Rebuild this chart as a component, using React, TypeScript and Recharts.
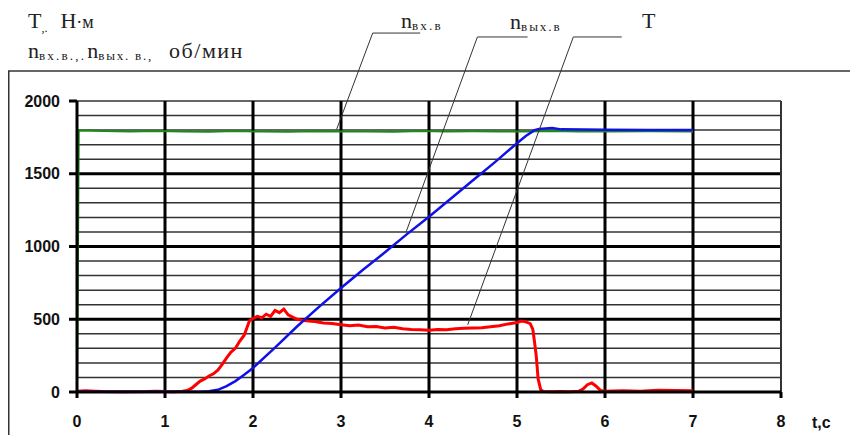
import React from 'react';
import { LineChart, Line, XAxis, YAxis, ReferenceLine } from 'recharts';

// time axis ticks and value axis ticks
const xTicks = [0, 1, 2, 3, 4, 5, 6, 7, 8];
const yTicks = [0, 500, 1000, 1500, 2000];
const yMinor = [100, 200, 300, 400, 600, 700, 800, 900, 1100, 1200, 1300, 1400, 1600, 1700, 1800, 1900, 2000];
const yMajor = [500, 1000, 1500];
const xGrid = [1, 2, 3, 4, 5, 6, 7];

// n вх.в (input speed), rpm
const tIn = [0, 0.01, 0.02, 0.3, 0.6, 0.9, 1.2, 1.5, 1.8, 2.1, 2.4, 2.7, 3.0, 3.3, 3.6, 3.9, 4.2, 4.5, 4.8, 5.1, 5.4, 5.7, 6.0, 6.5, 7.0];
const nIn = [0, 850, 1797, 1793, 1790, 1794, 1791, 1789, 1793, 1790, 1788, 1792, 1790, 1791, 1789, 1793, 1790, 1792, 1791, 1790, 1793, 1790, 1791, 1792, 1790];

// n вых.в (output speed), rpm
const tOut = [0, 0.5, 1.0, 1.4, 1.5, 1.6, 1.7, 1.8, 1.9, 2.0, 2.25, 2.5, 2.75, 3.0, 3.25, 3.5, 3.75, 4.0, 4.25, 4.5, 4.75, 5.0, 5.1, 5.2, 5.25, 5.4, 5.5, 6.0, 6.5, 7.0];
const nOut = [2, 2, 2, 2, 5, 15, 40, 75, 118, 165, 305, 450, 585, 715, 840, 960, 1085, 1205, 1330, 1455, 1580, 1710, 1760, 1800, 1808, 1814, 1805, 1803, 1801, 1800];

// T, torque N·m
const tT = [0, 0.1, 0.2, 0.3, 0.5, 0.8, 0.9, 1.0, 1.1, 1.2, 1.25, 1.3, 1.35, 1.4, 1.45, 1.5, 1.55, 1.6, 1.65, 1.7, 1.75, 1.8, 1.85, 1.9, 1.93, 1.96, 2.0, 2.05, 2.1, 2.15, 2.2, 2.25, 2.3, 2.35, 2.4, 2.45, 2.5, 2.55, 2.6, 2.7, 2.8, 2.9, 3.0, 3.1, 3.2, 3.3, 3.4, 3.5, 3.6, 3.7, 3.8, 3.9, 4.0, 4.1, 4.2, 4.3, 4.4, 4.5, 4.6, 4.7, 4.8, 4.9, 5.0, 5.05, 5.1, 5.15, 5.18, 5.2, 5.22, 5.24, 5.27, 5.3, 5.4, 5.5, 5.6, 5.7, 5.75, 5.8, 5.85, 5.9, 5.95, 6.0, 6.2, 6.4, 6.6, 6.8, 7.0];
const torque = [5, 8, 6, 3, 2, 3, 6, 3, 2, 5, 10, 25, 50, 75, 90, 110, 125, 150, 190, 235, 275, 300, 350, 390, 440, 490, 505, 520, 510, 535, 520, 560, 545, 570, 530, 515, 500, 495, 490, 485, 475, 470, 462, 455, 460, 448, 450, 440, 445, 435, 430, 428, 425, 430, 428, 435, 438, 440, 442, 448, 455, 468, 478, 488, 482, 470, 430, 340, 240, 90, 15, 3, 2, 4, 2, 5, 20, 50, 62, 40, 10, 5, 8, 6, 12, 10, 8];

const inData = tIn.map((t, i) => ({ t, v: nIn[i] }));
const outData = tOut.map((t, i) => ({ t, v: nOut[i] }));
const tData = tT.map((t, i) => ({ t, v: torque[i] }));

const tickFont = { fontFamily: 'Liberation Sans, Arial', fontWeight: 'bold', fontSize: 16, fill: '#111' };
const serif = 'Liberation Serif, Times New Roman, serif';

export default function App() {
  return (
    <div style={{ width: 850, height: 427 }}>
      <LineChart width={850} height={427} data={tData} margin={{ top: 93, right: 77, left: 9, bottom: 3 }}>
        <XAxis
          type="number"
          dataKey="t"
          domain={[0, 8]}
          ticks={xTicks}
          height={40}
          tickSize={6}
          tickMargin={18}
          axisLine={{ stroke: '#000', strokeWidth: 3 }}
          tickLine={{ stroke: '#000', strokeWidth: 3 }}
          tick={tickFont}
        />
        <YAxis
          type="number"
          domain={[0, 2000]}
          ticks={yTicks}
          width={60}
          tickSize={8}
          tickMargin={9}
          axisLine={{ stroke: '#000', strokeWidth: 3 }}
          tickLine={{ stroke: '#000', strokeWidth: 3 }}
          tick={tickFont}
        />
        {yMinor.map(y => (
          <ReferenceLine key={'m' + y} y={y} stroke="#333" strokeWidth={1.5} />
        ))}
        {yMajor.map(y => (
          <ReferenceLine key={'M' + y} y={y} stroke="#000" strokeWidth={3} />
        ))}
        {xGrid.map(x => (
          <ReferenceLine key={'x' + x} x={x} stroke="#000" strokeWidth={3} />
        ))}
        <ReferenceLine x={8} stroke="#333" strokeWidth={2} />

        <Line data={tData} dataKey="v" stroke="#ff0000" strokeWidth={3} dot={false} isAnimationActive={false} />
        <Line data={inData} dataKey="v" stroke="#1a8a1a" strokeWidth={2} dot={false} isAnimationActive={false} />
        <Line data={outData} dataKey="v" stroke="#1010e8" strokeWidth={2.5} dot={false} isAnimationActive={false} />

        {/* leader lines to series labels */}
        <ReferenceLine segment={[{ x: 3.36, y: 2467 }, { x: 3.9, y: 2467 }]} stroke="#333" strokeWidth={1} ifOverflow="visible" />
        <ReferenceLine segment={[{ x: 3.36, y: 2467 }, { x: 2.95, y: 1805 }]} stroke="#333" strokeWidth={1} ifOverflow="visible" />
        <ReferenceLine segment={[{ x: 4.55, y: 2440 }, { x: 5.12, y: 2440 }]} stroke="#333" strokeWidth={1} ifOverflow="visible" />
        <ReferenceLine segment={[{ x: 4.55, y: 2440 }, { x: 3.74, y: 1100 }]} stroke="#333" strokeWidth={1} ifOverflow="visible" />
        <ReferenceLine segment={[{ x: 5.64, y: 2440 }, { x: 6.19, y: 2440 }]} stroke="#333" strokeWidth={1} ifOverflow="visible" />
        <ReferenceLine segment={[{ x: 5.64, y: 2440 }, { x: 4.44, y: 462 }]} stroke="#333" strokeWidth={1} ifOverflow="visible" />

        <g>
          <line x1={0} y1={63} x2={850} y2={63} stroke="#333" strokeWidth={1.5} />
          <line x1={0.75} y1={63} x2={0.75} y2={427} stroke="#333" strokeWidth={1.5} />
          <text x={20} y={20} fontFamily={serif} fontSize={22} fill="#222">
            T<tspan fontSize={12} dy={4}>,.</tspan>
            <tspan dy={-4} dx={13}>Н</tspan>
            <tspan fontSize={18}>·м</tspan>
          </text>
          <text x={20} y={50} fontFamily={serif} fontSize={22} fill="#222">
            n<tspan fontSize={13} dy={2} letterSpacing={2.2}>вх.в.,.</tspan>
            <tspan dy={-2} dx={1}>n</tspan>
            <tspan fontSize={13} dy={2} letterSpacing={1.8}>вых. в.,</tspan>
            <tspan dy={-2} dx={16} letterSpacing={1.5}>об/мин</tspan>
          </text>
          <text x={393} y={20} fontFamily={serif} fontSize={22} fill="#222">
            n<tspan fontSize={13} dy={2} letterSpacing={2.2}>вх.в</tspan>
          </text>
          <text x={502} y={21} fontFamily={serif} fontSize={22} fill="#222">
            n<tspan fontSize={13} dy={2} letterSpacing={2}>вых.в</tspan>
          </text>
          <text x={634} y={20} fontFamily={serif} fontSize={22} fill="#222">T</text>
          <text x={804} y={420} fontFamily="Liberation Sans, Arial" fontWeight="bold" fontSize={16} fill="#111">t,c</text>
        </g>
      </LineChart>
    </div>
  );
}
